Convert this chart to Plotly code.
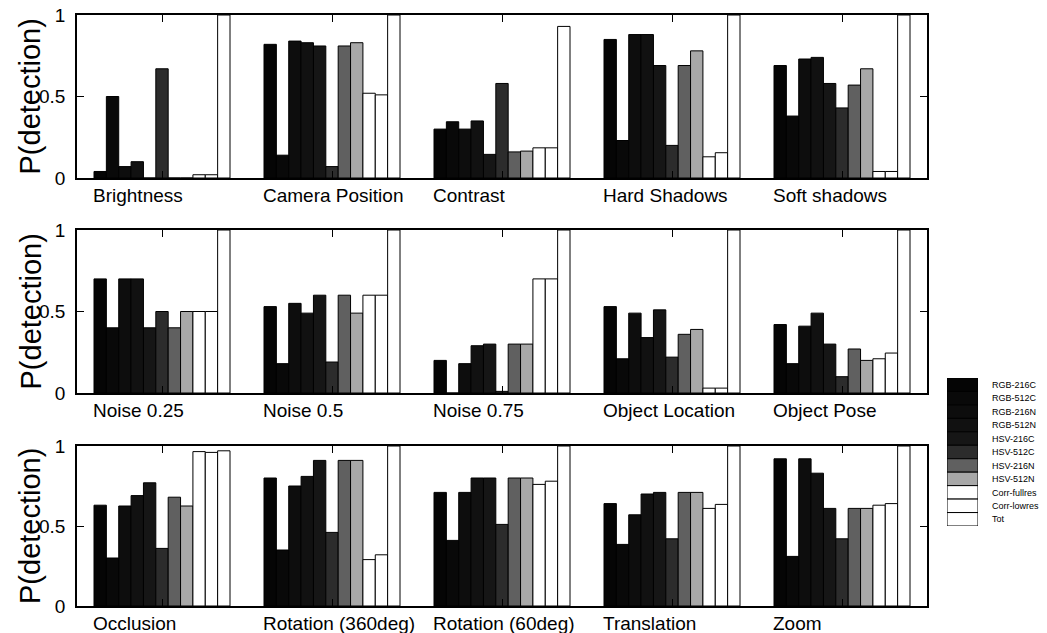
import plotly.graph_objects as go

# ---------------- data ----------------
categories = ["Brightness", "Camera Position", "Contrast", "Hard Shadows", "Soft shadows",
              "Noise 0.25", "Noise 0.5", "Noise 0.75", "Object Location", "Object Pose",
              "Occlusion", "Rotation (360deg)", "Rotation (60deg)", "Translation", "Zoom"]

series_names = ["RGB-216C", "RGB-512C", "RGB-216N", "RGB-512N", "HSV-216C", "HSV-512C",
                "HSV-216N", "HSV-512N", "Corr-fullres", "Corr-lowres", "Tot"]

rgb_216c = [0.04, 0.82, 0.30, 0.85, 0.69, 0.70, 0.53, 0.20, 0.53, 0.42, 0.63, 0.80, 0.71, 0.64, 0.92]
rgb_512c = [0.50, 0.14, 0.345, 0.23, 0.38, 0.40, 0.18, 0.00, 0.21, 0.18, 0.30, 0.35, 0.41, 0.385, 0.31]
rgb_216n = [0.07, 0.84, 0.30, 0.88, 0.73, 0.70, 0.55, 0.18, 0.49, 0.41, 0.625, 0.75, 0.71, 0.57, 0.92]
rgb_512n = [0.10, 0.83, 0.35, 0.88, 0.74, 0.70, 0.49, 0.29, 0.34, 0.49, 0.69, 0.81, 0.80, 0.70, 0.83]
hsv_216c = [0.00, 0.81, 0.145, 0.69, 0.58, 0.40, 0.60, 0.30, 0.51, 0.30, 0.77, 0.91, 0.80, 0.71, 0.61]
hsv_512c = [0.67, 0.07, 0.58, 0.20, 0.43, 0.50, 0.19, 0.01, 0.22, 0.10, 0.36, 0.46, 0.51, 0.42, 0.42]
hsv_216n = [0.00, 0.81, 0.16, 0.69, 0.57, 0.40, 0.60, 0.30, 0.36, 0.27, 0.68, 0.91, 0.80, 0.71, 0.61]
hsv_512n = [0.00, 0.83, 0.165, 0.78, 0.67, 0.50, 0.49, 0.30, 0.39, 0.20, 0.625, 0.91, 0.80, 0.71, 0.61]
corr_full = [0.02, 0.52, 0.185, 0.13, 0.04, 0.50, 0.60, 0.70, 0.03, 0.21, 0.965, 0.29, 0.76, 0.61, 0.63]
corr_low = [0.02, 0.51, 0.185, 0.155, 0.04, 0.50, 0.60, 0.70, 0.03, 0.245, 0.96, 0.32, 0.78, 0.635, 0.64]
total = [1.00, 1.00, 0.93, 1.00, 1.00, 1.00, 1.00, 1.00, 1.00, 1.00, 0.97, 1.00, 1.00, 1.00, 1.00]

series_values = [rgb_216c, rgb_512c, rgb_216n, rgb_512n, hsv_216c, hsv_512c,
                 hsv_216n, hsv_512n, corr_full, corr_low, total]

y_ticks = [0, 0.5, 1]
y_tick_labels = ["0", "0.5", "1"]
y_title = "P(detection)"

# ---------------- style ----------------
colors = ["#050505", "#090909", "#0d0d0d", "#111111", "#161616", "#2c2c2c",
          "#606060", "#a8a8a8", "#ffffff", "#ffffff", "#ffffff"]
FONT = "Liberation Sans, Arial, sans-serif"
W, H = 1047, 633
x_left, x_right = 77, 927
row_px = [(15, 178), (230, 393), (446, 606)]

fig = go.Figure()
n_groups = 5
group_pos = list(range(1, n_groups + 1))

for r in range(3):
    ax = "" if r == 0 else str(r + 1)
    for s, name in enumerate(series_names):
        vals = series_values[s][r * n_groups:(r + 1) * n_groups]
        fig.add_trace(go.Bar(
            x=group_pos, y=vals, name=name, showlegend=False,
            marker=dict(color=colors[s], line=dict(color="black", width=1)),
            xaxis="x" + ax, yaxis="y" + ax,
            hovertext=categories[r * n_groups:(r + 1) * n_groups],
        ))
    top, bot = row_px[r]
    fig.layout["xaxis" + ax] = dict(
        domain=[x_left / W, x_right / W], anchor="y" + ax, range=[0.5, 5.5],
        tickvals=group_pos, showticklabels=False, ticks="inside", ticklen=7,
        tickcolor="black", showline=True, linecolor="black", linewidth=1.5,
        mirror="ticks", showgrid=False, zeroline=False, automargin=False,
    )
    fig.layout["yaxis" + ax] = dict(
        domain=[1 - bot / H, 1 - top / H], anchor="x" + ax, range=[0, 1],
        tickvals=y_ticks, ticktext=y_tick_labels, ticks="inside", ticklen=7,
        tickcolor="black", showline=True, linecolor="black", linewidth=1.5,
        mirror="ticks", showgrid=False, zeroline=False, automargin=False,
        tickfont=dict(family=FONT, size=19, color="black"), ticklabelstandoff=6,
        ticklabeloverflow="allow",
    )
    # y-axis title
    fig.add_annotation(
        x=30 / W, y=0.5, xref="paper", yref="y" + ax + " domain",
        text=y_title, textangle=-90, showarrow=False, xanchor="center", yanchor="middle",
        font=dict(family=FONT, size=29, color="black"),
    )
    for g in range(n_groups):
        fig.add_annotation(
            x=group_pos[g] - 0.42, y=0, xref="x" + ax, yref="y" + ax + " domain",
            text=categories[r * n_groups + g], showarrow=False, xanchor="left",
            yanchor="top", yshift=-5, font=dict(family=FONT, size=19, color="black"),
        )

# ---------------- legend as a small stacked patch column ----------------
leg_top, leg_bot = 378, 526
for s, name in enumerate(series_names):
    fig.add_trace(go.Bar(
        x=[0], y=[1], base=[s], width=[1], offset=-0.5, name=name, showlegend=False,
        marker=dict(color=colors[s], line=dict(color="black", width=1)),
        xaxis="x4", yaxis="y4",
    ))
fig.layout["xaxis4"] = dict(domain=[947 / W, 978 / W], anchor="y4",
                            range=[-0.5, 0.5], visible=False, fixedrange=True, automargin=False)
fig.layout["yaxis4"] = dict(
    domain=[1 - leg_bot / H, 1 - leg_top / H], anchor="x4", range=[len(series_names), 0],
    side="right", tickvals=[i + 0.5 for i in range(len(series_names))], ticktext=series_names,
    ticks="", showline=False, showgrid=False, zeroline=False, ticklabelstandoff=13,
    tickfont=dict(family=FONT, size=9, color="black"), fixedrange=True, automargin=False,
)

fig.update_layout(
    width=W, height=H, margin=dict(l=0, r=0, t=0, b=0, pad=0), autosize=False,
    barmode="group", bargap=0.2, bargroupgap=0, showlegend=False,
    plot_bgcolor="white", paper_bgcolor="white",
    font=dict(family=FONT, color="black"),
)

fig.write_html("out.html", config={"displayModeBar": False},
               post_script="document.body.style.margin='0';")
